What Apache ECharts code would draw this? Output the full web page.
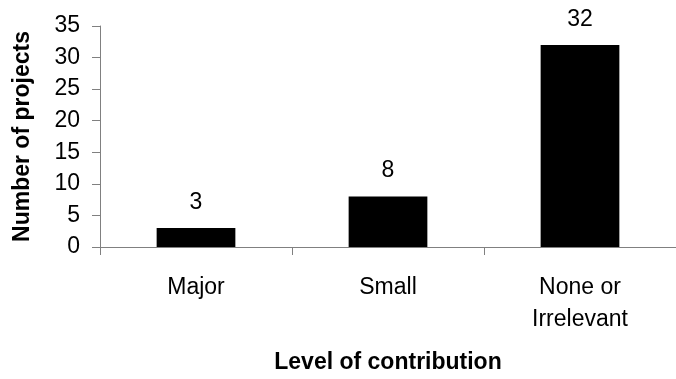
<!DOCTYPE html>
<html>
<head>
<meta charset="utf-8">
<script src="https://cdn.jsdelivr.net/npm/echarts@6/dist/echarts.min.js"></script>
<style>
  html, body { margin: 0; padding: 0; background: #fff; overflow: hidden; }
  #chart { width: 676px; height: 379px; }
</style>
</head>
<body>
<div id="chart"></div>
<script>
  // data
  var categories = ['Major', 'Small', 'None or\nIrrelevant'];
  var projects = [3, 8, 32];

  var myChart = echarts.init(document.getElementById('chart'));
  var font = 'Liberation Sans, Arial, sans-serif';

  // the plot runs a bit past the right edge of the picture (cropped original)
  myChart.setOption({
    animation: false,
    backgroundColor: '#ffffff',
    grid: {
      left: 100,
      top: 26,
      width: 585,
      height: 229,
      containLabel: false
    },
    xAxis: {
      type: 'category',
      data: categories,
      name: 'Level of contribution',
      nameLocation: 'middle',
      nameGap: 104,
      nameTextStyle: { fontFamily: font, fontSize: 23, fontWeight: 'bold', color: '#000' },
      axisLine: { lineStyle: { color: '#808080', width: 1 } },
      axisTick: { show: true, length: 8, lineStyle: { color: '#808080' } },
      axisLabel: {
        fontFamily: font, fontSize: 23, color: '#000',
        margin: 25, lineHeight: 32
      }
    },
    yAxis: {
      type: 'value',
      min: 0,
      max: 35,
      interval: 5,
      name: 'Number of projects',
      nameLocation: 'middle',
      nameGap: 66,
      nameTextStyle: { fontFamily: font, fontSize: 23, fontWeight: 'bold', color: '#000' },
      axisLine: { show: true, lineStyle: { color: '#808080', width: 1 } },
      axisTick: { show: true, length: 8, lineStyle: { color: '#808080' } },
      axisLabel: { fontFamily: font, fontSize: 23, color: '#000', margin: 20 },
      splitLine: { show: false }
    },
    series: [
      {
        name: 'Projects',
        type: 'bar',
        data: projects,
        barWidth: '41%',
        itemStyle: { color: '#000' },
        label: {
          show: true,
          position: 'top',
          distance: 14,
          fontFamily: font,
          fontSize: 23,
          color: '#000'
        }
      }
    ]
  });
</script>
</body>
</html>
